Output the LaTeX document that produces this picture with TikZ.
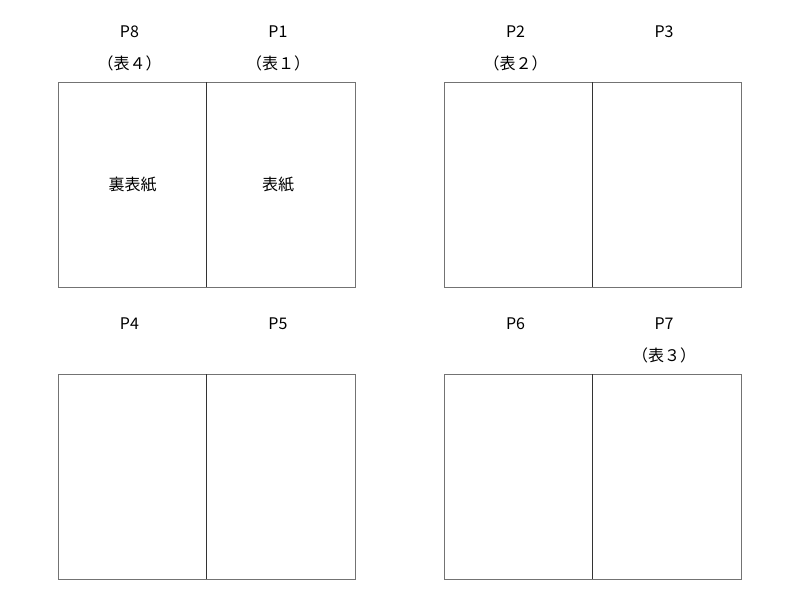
\documentclass[tikz,border=0pt]{standalone}
\usepackage{fontspec}
\setmainfont{Noto Sans CJK JP}
\begin{document}
\begin{tikzpicture}[x=1pt,y=-1pt,%
        pg/.style={rectangle, draw=black!55, line width=0.9pt,%
                        inner sep=0pt, outer sep=0pt,%
                        minimum width=148.5pt, minimum height=205pt},
        spine/.style={draw=black!80, line width=1.4pt},
        lbl/.style={font=\fontsize{16}{18}\selectfont, inner sep=0pt}]
\useasboundingbox (0,0) rectangle (800,600);
            % pages
            \foreach \n/\x/\y in {p8/132.5/184.5, p1/281/184.5,
                                  p2/518.5/184.5, p3/667/184.5,
                                  p4/132.5/476.5, p5/281/476.5,
                                  p6/518.5/476.5, p7/667/476.5}
                \node[pg] (\n) at (\x,\y) {};
            \node[lbl] (t8) at (p8) {裏表紙};
            \node[lbl] (t1) at ([xshift=-3pt]p1.center) {表紙};
            % spines
            \draw[spine] (p8.north east) -- (p8.south east);
            \draw[spine] (p2.north east) -- (p2.south east);
            \draw[spine] (p4.north east) -- (p4.south east);
            \draw[spine] (p6.north east) -- (p6.south east);
            % page numbers
            \foreach \n/\t in {p8/P8, p1/P1, p2/P2, p3/P3,
                               p4/P4, p5/P5, p6/P6, p7/P7}
                \node[lbl] (n\n) at ([xshift=-3pt,yshift=50pt]\n.north) {\t};
            \node[lbl] (c8) at ([xshift=-3pt,yshift=19pt]p8.north) {（表４）};
            \node[lbl] (c1) at ([xshift=-3pt,yshift=19pt]p1.north) {（表１）};
            \node[lbl] (c2) at ([xshift=-3pt,yshift=19pt]p2.north) {（表２）};
            \node[lbl] (c7) at ([xshift=-3pt,yshift=19pt]p7.north) {（表３）};
\end{tikzpicture}
\end{document}
